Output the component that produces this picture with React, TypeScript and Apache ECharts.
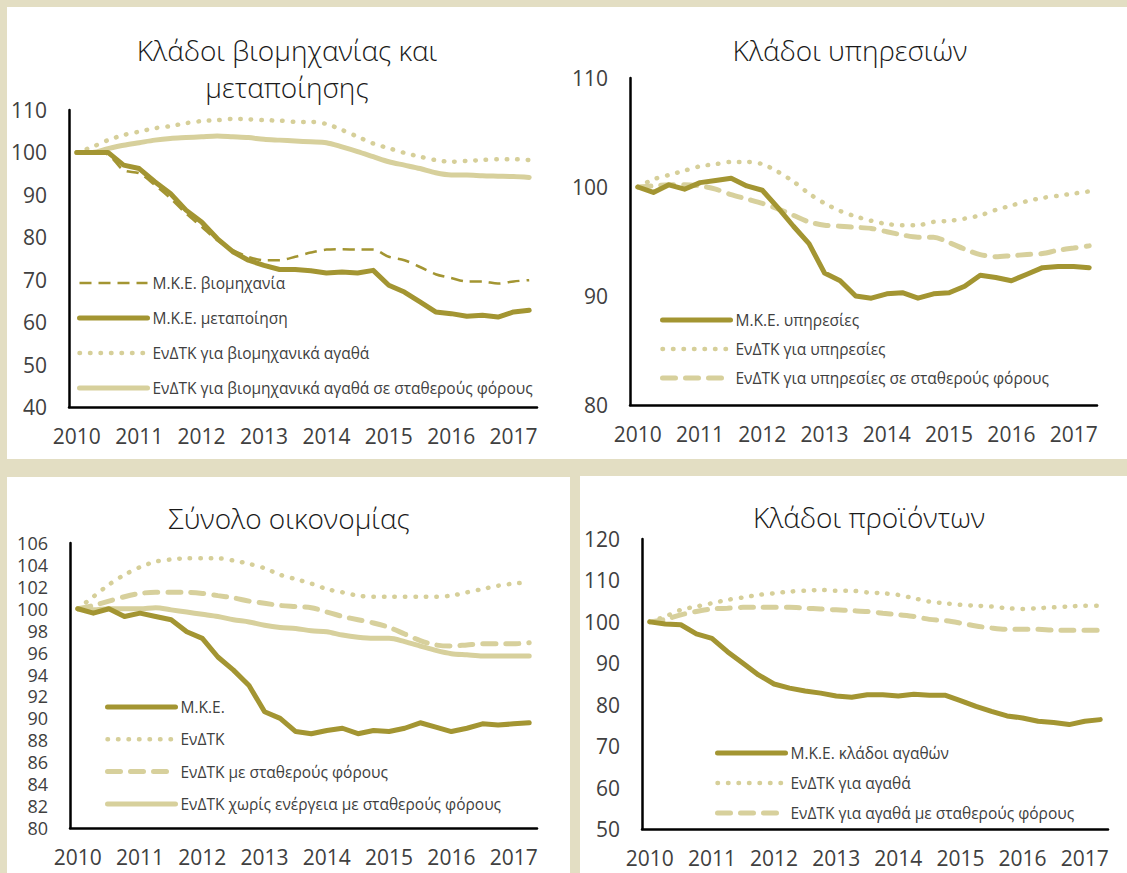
import React, { useEffect, useRef } from "react";
import * as echarts from "echarts";

const quarters = [
  "2010Q1", "2010Q2", "2010Q3", "2010Q4",
  "2011Q1", "2011Q2", "2011Q3", "2011Q4",
  "2012Q1", "2012Q2", "2012Q3", "2012Q4",
  "2013Q1", "2013Q2", "2013Q3", "2013Q4",
  "2014Q1", "2014Q2", "2014Q3", "2014Q4",
  "2015Q1", "2015Q2", "2015Q3", "2015Q4",
  "2016Q1", "2016Q2", "2016Q3", "2016Q4",
  "2017Q1", "2017Q2",
];

// Panel 1: Κλάδοι βιομηχανίας και μεταποίησης
const p1Title = "Κλάδοι βιομηχανίας και\nμεταποίησης";
const p1Names = [
  "Μ.Κ.Ε. βιομηχανία",
  "Μ.Κ.Ε. μεταποίηση",
  "ΕνΔΤΚ για βιομηχανικά αγαθά",
  "ΕνΔΤΚ για βιομηχανικά αγαθά σε σταθερούς φόρους",
];
const p1Industry = [100, 100, 99.5, 95.8, 95.1, 92.3, 89.2, 85.6, 82.5, 79.3, 77, 75.4, 74.6, 74.6, 75.4, 76.4, 77.1, 77.2, 77.1, 77.1, 75.4, 74.6, 73, 71.3, 70.4, 69.6, 69.6, 69.1, 69.6, 69.9];
const p1Manuf = [100, 100, 100, 97, 96.2, 93.1, 90.3, 86.4, 83.6, 79.7, 76.6, 74.6, 73.4, 72.4, 72.4, 72.1, 71.6, 71.8, 71.6, 72.2, 68.7, 67.1, 64.8, 62.4, 62.0, 61.4, 61.6, 61.2, 62.4, 62.8];
const p1Hicp = [100, 101.3, 102.9, 104.1, 104.9, 105.7, 106.2, 106.9, 107.4, 107.6, 107.9, 107.8, 107.6, 107.5, 107.2, 107.2, 106.7, 105.3, 103.7, 102.1, 101, 99.9, 99, 98.2, 97.8, 98, 98.2, 98.4, 98.4, 98.2];
const p1HicpCt = [100, 100, 100.9, 101.7, 102.3, 102.9, 103.3, 103.5, 103.7, 103.9, 103.7, 103.5, 103.1, 102.9, 102.7, 102.5, 102.3, 101.3, 100.2, 99, 97.8, 97, 96.2, 95.2, 94.7, 94.7, 94.5, 94.4, 94.3, 94.1];

// Panel 2: Κλάδοι υπηρεσιών
const p2Title = "Κλάδοι υπηρεσιών";
const p2Names = [
  "Μ.Κ.Ε. υπηρεσίες",
  "ΕνΔΤΚ για υπηρεσίες",
  "ΕνΔΤΚ για υπηρεσίες σε σταθερούς φόρους",
];
const p2Ulc = [100, 99.5, 100.2, 99.8, 100.4, 100.6, 100.8, 100.1, 99.7, 98.1, 96.4, 94.8, 92.1, 91.4, 90.0, 89.8, 90.2, 90.3, 89.8, 90.2, 90.3, 90.9, 91.9, 91.7, 91.4, 92.0, 92.6, 92.7, 92.7, 92.6];
const p2Hicp = [100, 100.7, 101.1, 101.5, 101.9, 102.1, 102.3, 102.3, 102.1, 101.4, 100.5, 99.4, 98.5, 97.8, 97.3, 96.9, 96.6, 96.5, 96.5, 96.8, 96.9, 97.1, 97.4, 97.9, 98.3, 98.7, 99.0, 99.2, 99.4, 99.6];
const p2HicpCt = [100, 100.1, 100.2, 100.2, 100.1, 99.8, 99.3, 98.9, 98.5, 98.0, 97.4, 96.8, 96.5, 96.4, 96.3, 96.2, 95.9, 95.6, 95.4, 95.4, 94.9, 94.3, 93.8, 93.6, 93.7, 93.8, 93.9, 94.2, 94.4, 94.6];

// Panel 3: Σύνολο οικονομίας
const p3Title = "Σύνολο οικονομίας";
const p3Names = [
  "Μ.Κ.Ε.",
  "ΕνΔΤΚ",
  "ΕνΔΤΚ με σταθερούς φόρους",
  "ΕνΔΤΚ χωρίς ενέργεια με σταθερούς φόρους",
];
const p3Ulc = [100, 99.6, 100, 99.3, 99.6, 99.3, 99.0, 97.9, 97.3, 95.6, 94.4, 93.0, 90.6, 90.0, 88.8, 88.6, 88.9, 89.1, 88.6, 88.9, 88.8, 89.1, 89.6, 89.2, 88.8, 89.1, 89.5, 89.4, 89.5, 89.6];
const p3Hicp = [100, 101.1, 102.2, 103.1, 103.8, 104.3, 104.5, 104.6, 104.6, 104.6, 104.4, 104.1, 103.7, 103.1, 102.7, 102.3, 101.8, 101.5, 101.2, 101.1, 101.1, 101.1, 101.1, 101.1, 101.2, 101.5, 101.8, 102.1, 102.3, 102.4];
const p3HicpCt = [100, 100.3, 100.7, 101.1, 101.4, 101.5, 101.5, 101.5, 101.4, 101.2, 101.0, 100.7, 100.5, 100.3, 100.2, 100.1, 99.7, 99.3, 99.0, 98.7, 98.3, 97.7, 97.1, 96.7, 96.6, 96.7, 96.8, 96.8, 96.8, 96.9];
const p3HicpExEn = [100, 99.9, 100, 100, 100, 100.1, 99.9, 99.7, 99.5, 99.3, 99.0, 98.8, 98.5, 98.3, 98.2, 98.0, 97.9, 97.6, 97.4, 97.3, 97.3, 97.0, 96.6, 96.2, 95.9, 95.8, 95.7, 95.7, 95.7, 95.7];

// Panel 4: Κλάδοι προϊόντων
const p4Title = "Κλάδοι προϊόντων";
const p4Names = [
  "Μ.Κ.Ε. κλάδοι αγαθών",
  "ΕνΔΤΚ για αγαθά",
  "ΕνΔΤΚ για αγαθά με σταθερούς φόρους",
];
const p4Ulc = [100, 99.5, 99.3, 97.1, 96.0, 92.8, 90.0, 87.2, 85.0, 84.0, 83.3, 82.8, 82.1, 81.8, 82.4, 82.4, 82.1, 82.5, 82.3, 82.3, 81.0, 79.6, 78.4, 77.3, 76.8, 76.0, 75.7, 75.2, 76.0, 76.4];
const p4Hicp = [100, 101.3, 102.9, 103.7, 104.5, 105.3, 105.9, 106.5, 106.9, 107.3, 107.5, 107.7, 107.5, 107.5, 107.1, 106.9, 106.5, 105.7, 104.9, 104.5, 104.1, 103.9, 103.7, 103.3, 103.1, 103.3, 103.5, 103.7, 103.9, 103.9];
const p4HicpCt = [100, 100.6, 101.7, 102.5, 103.1, 103.3, 103.5, 103.5, 103.5, 103.5, 103.3, 103.1, 102.9, 102.7, 102.5, 102.1, 101.7, 101.3, 100.6, 100.3, 99.7, 99.0, 98.5, 98.2, 98.2, 98.2, 98.0, 98.0, 98.0, 98.0];

const DARK = "#a39532";
const LIGHT = "#d7d09c";
const DOT = "#d6cf99";
const BEIGE = "#e3dec3";
const FONT = "'Open Sans', 'Noto Sans', sans-serif";

type Kind = "darkSolid" | "darkDash" | "dot" | "lightSolid" | "lightDash";

function styleFor(kind: Kind) {
  switch (kind) {
    case "darkSolid":
      return { color: DARK, width: 5, type: "solid", cap: "round", join: "round" };
    case "darkDash":
      return { color: DARK, width: 2.5, type: [12, 7], cap: "butt" };
    case "dot":
      return { color: DOT, width: 4.5, type: [0.5, 10], cap: "round" };
    case "lightSolid":
      return { color: LIGHT, width: 5, type: "solid", cap: "round", join: "round" };
    case "lightDash":
      return { color: LIGHT, width: 5, type: [13, 10], cap: "round" };
  }
}

function mk(name: string, data: number[], idx: number, kind: Kind, z: number) {
  const ls: any = styleFor(kind);
  return {
    type: "line",
    name,
    data,
    xAxisIndex: idx,
    yAxisIndex: idx,
    symbol: "none",
    showSymbol: false,
    smooth: kind === "darkSolid" ? false : 0.3,
    lineStyle: ls,
    itemStyle: { color: ls.color },
    z,
  };
}

const grids = [
  { left: 69, top: 110, width: 468, height: 297 },
  { left: 630, top: 78, width: 467, height: 327 },
  { left: 70, top: 543, width: 467, height: 285 },
  { left: 642, top: 539, width: 466, height: 290 },
];
const yRanges = [
  { min: 40, max: 110, interval: 10 },
  { min: 80, max: 110, interval: 10 },
  { min: 80, max: 106, interval: 2 },
  { min: 50, max: 120, interval: 10 },
];

export default function App() {
  const ref = useRef<HTMLDivElement>(null);
  useEffect(() => {
    if (!ref.current) return;
    const chart = echarts.init(ref.current, undefined, { renderer: "svg" });
    const axisLine = { show: true, lineStyle: { color: "#000", width: 2.5 } };
    const labelStyle = { color: "#404040", fontSize: 21, fontFamily: FONT };
    const legendBase = {
      orient: "vertical",
      itemWidth: 68,
      itemHeight: 14,
      textStyle: { color: "#404040", fontSize: 15.5, fontFamily: FONT },
      lineStyle: { width: "inherit" },
      itemStyle: { color: "rgba(0,0,0,0)", borderWidth: 0, opacity: 0 },
      selectedMode: false,
      padding: 0,
    };
    const titleBase = {
      textAlign: "center",
      padding: 0,
      textStyle: { color: "#1a1a1a", fontSize: 28, fontWeight: 300, fontFamily: FONT, lineHeight: 37 },
    };
    const option: any = {
      animation: false,
      backgroundColor: BEIGE,
      graphic: [
        { type: "rect", z: -10, shape: { x: 7, y: 7, width: 1120, height: 452 }, style: { fill: "#fff" } },
        { type: "rect", z: -10, shape: { x: 7, y: 477, width: 563, height: 396 }, style: { fill: "#fff" } },
        { type: "rect", z: -10, shape: { x: 580, y: 476, width: 547, height: 397 }, style: { fill: "#fff" } },
      ],
      title: [
        { ...titleBase, text: p1Title, left: 287, top: 31 },
        { ...titleBase, text: p2Title, left: 850, top: 31 },
        { ...titleBase, text: p3Title, left: 289, top: 499 },
        { ...titleBase, text: p4Title, left: 869, top: 498 },
      ],
      legend: [
        { ...legendBase, data: p1Names, left: 77, top: 275, itemGap: 19 },
        { ...legendBase, data: p2Names, left: 660, top: 312, itemGap: 13 },
        { ...legendBase, data: p3Names, left: 105, top: 699, itemGap: 16.3 },
        { ...legendBase, data: p4Names, left: 715, top: 745, itemGap: 14 },
      ],
      grid: grids,
      xAxis: grids.map((_, i) => ({
        type: "category",
        gridIndex: i,
        data: quarters,
        boundaryGap: true,
        axisLine,
        axisTick: { show: false },
        axisLabel: { ...labelStyle, interval: 3, margin: 18, formatter: (v: string) => v.slice(0, 4) },
        splitLine: { show: false },
      })),
      yAxis: yRanges.map((r, i) => ({
        type: "value",
        gridIndex: i,
        min: r.min,
        max: r.max,
        interval: r.interval,
        axisLine,
        axisTick: { show: false },
        axisLabel:
          i === 2
            ? { ...labelStyle, fontSize: 18, lineHeight: 18, margin: 22 }
            : { ...labelStyle, margin: 22 },
        splitLine: { show: false },
      })),
      series: [
        mk(p1Names[3], p1HicpCt, 0, "lightSolid", 2),
        mk(p1Names[2], p1Hicp, 0, "dot", 3),
        mk(p1Names[0], p1Industry, 0, "darkDash", 4),
        mk(p1Names[1], p1Manuf, 0, "darkSolid", 5),
        mk(p2Names[2], p2HicpCt, 1, "lightDash", 2),
        mk(p2Names[1], p2Hicp, 1, "dot", 3),
        mk(p2Names[0], p2Ulc, 1, "darkSolid", 5),
        mk(p3Names[3], p3HicpExEn, 2, "lightSolid", 2),
        mk(p3Names[2], p3HicpCt, 2, "lightDash", 3),
        mk(p3Names[1], p3Hicp, 2, "dot", 3),
        mk(p3Names[0], p3Ulc, 2, "darkSolid", 5),
        mk(p4Names[2], p4HicpCt, 3, "lightDash", 2),
        mk(p4Names[1], p4Hicp, 3, "dot", 3),
        mk(p4Names[0], p4Ulc, 3, "darkSolid", 5),
      ],
    };
    chart.setOption(option);
    return () => chart.dispose();
  }, []);
  return (
    <div
      ref={ref}
      style={{ position: "absolute", left: 0, top: 0, width: 1127, height: 873 }}
    />
  );
}
